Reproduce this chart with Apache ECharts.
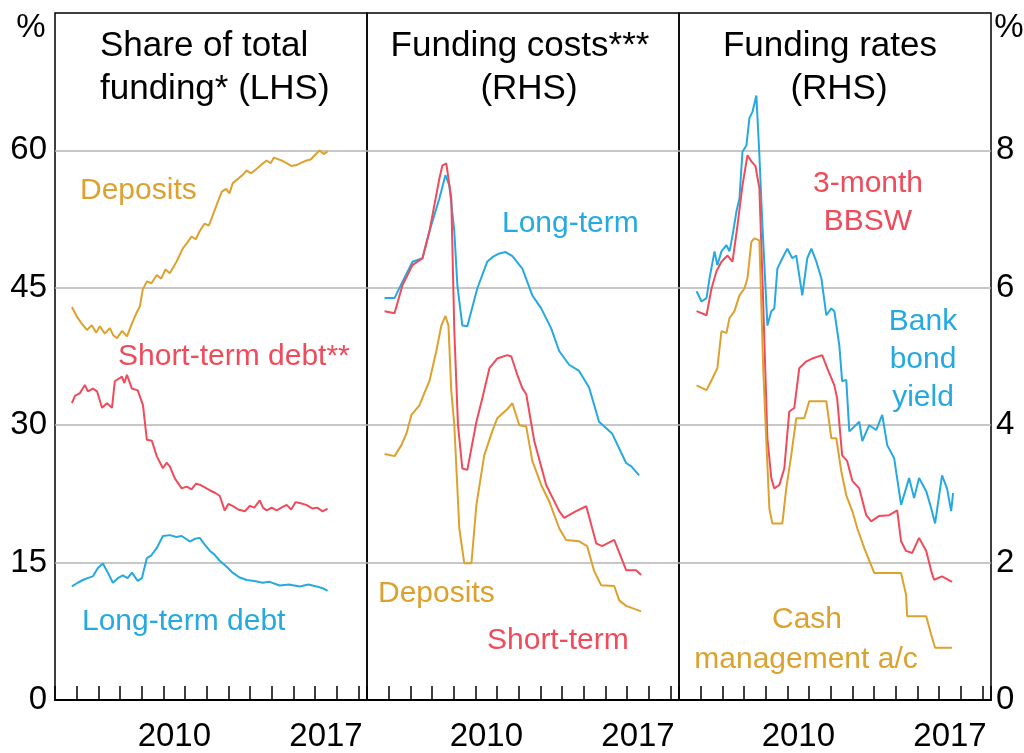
<!DOCTYPE html>
<html>
<head>
<meta charset="utf-8">
<script src="https://cdn.jsdelivr.net/npm/echarts@6/dist/echarts.min.js"></script>
<style>
html, body { margin: 0; padding: 0; background: #fff; }
#main { width: 1024px; height: 753px; }
</style>
</head>
<body>
<div id="main"></div>
<script>
var FONT = '"Liberation Sans", Arial, sans-serif';
var GOLD = '#DDA12E', RED = '#F04B5B', BLUE = '#25A9E0';

// tick labels
var yearLabels = [2010, 2017];
var lhsTicks = [0, 15, 30, 45, 60];
var rhsTicks = [0, 2, 4, 6, 8];

// panel 1: share of total funding (per cent, LHS)
var shareDeposits = [[2005.78,42.9],[2006.0,41.9],[2006.2,41.2],[2006.47,40.4],[2006.7,40.9],[2006.9,40.1],[2007.07,40.8],[2007.3,40.0],[2007.53,40.6],[2007.7,39.8],[2007.86,39.5],[2008.1,40.3],[2008.32,39.7],[2008.55,41.1],[2008.75,42.2],[2008.92,43],[2009.05,44.8],[2009.24,45.7],[2009.45,45.5],[2009.7,46.4],[2009.9,46.0],[2010.1,47.0],[2010.3,46.6],[2010.62,47.9],[2010.9,49.3],[2011.1,49.9],[2011.3,50.6],[2011.5,50.3],[2011.68,51.2],[2011.9,52.0],[2012.1,51.8],[2012.28,52.9],[2012.5,54.3],[2012.7,55.5],[2012.9,55.8],[2013.05,55.3],[2013.2,56.4],[2013.45,56.9],[2013.65,57.3],[2013.85,57.8],[2014.05,57.5],[2014.31,58],[2014.55,58.5],[2014.77,58.9],[2014.95,58.6],[2015.1,59.2],[2015.23,59.1],[2015.45,58.9],[2015.69,58.6],[2015.9,58.3],[2016.15,58.4],[2016.4,58.7],[2016.61,58.9],[2016.8,59.0],[2017.0,59.5],[2017.21,60],[2017.4,59.6],[2017.58,59.9]];
var shareShortDebt = [[2005.78,32.4],[2005.92,33.2],[2006.15,33.5],[2006.38,34.4],[2006.52,33.7],[2006.75,34.0],[2006.94,33.7],[2007.17,31.9],[2007.4,32.4],[2007.63,31.9],[2007.76,34.8],[2008.09,35.3],[2008.2,34.6],[2008.32,35.5],[2008.55,34],[2008.82,33.8],[2009.06,32.2],[2009.24,28.4],[2009.47,28.3],[2009.7,26.6],[2009.98,25.3],[2010.15,25.9],[2010.3,25.5],[2010.53,24.2],[2010.85,23.1],[2011.08,23.3],[2011.3,23.0],[2011.5,23.6],[2011.68,23.5],[2012.14,22.9],[2012.4,22.6],[2012.6,22.3],[2012.83,20.7],[2013.0,21.4],[2013.2,21.2],[2013.45,20.8],[2013.76,20.6],[2014.0,21.2],[2014.2,21.0],[2014.45,21.8],[2014.6,21.0],[2014.77,20.7],[2015.0,21.0],[2015.23,20.7],[2015.45,21.0],[2015.69,21.3],[2015.9,20.8],[2016.1,21.6],[2016.29,21.5],[2016.6,21.3],[2016.89,20.9],[2017.1,21.0],[2017.35,20.6],[2017.58,20.9]];
var shareLongDebt = [[2005.78,12.4],[2006.05,12.8],[2006.29,13.1],[2006.5,13.3],[2006.75,13.5],[2006.98,14.4],[2007.21,14.9],[2007.44,13.9],[2007.67,12.8],[2007.9,13.3],[2008.13,13.6],[2008.35,13.3],[2008.55,13.9],[2008.82,13.0],[2009.01,13.3],[2009.24,15.5],[2009.45,15.8],[2009.7,16.6],[2009.98,17.9],[2010.3,18.0],[2010.6,17.8],[2010.85,17.9],[2011.22,17.3],[2011.45,17.6],[2011.68,17.7],[2011.9,17.0],[2012.14,16.3],[2012.35,15.9],[2012.6,15.2],[2012.9,14.6],[2013.2,13.9],[2013.5,13.4],[2013.85,13.1],[2014.2,13.0],[2014.59,12.8],[2014.9,12.9],[2015.37,12.5],[2015.8,12.6],[2016.29,12.4],[2016.7,12.6],[2017.07,12.4],[2017.35,12.2],[2017.58,11.9]];

// panel 2: funding costs (per cent, RHS)
var costLongTerm = [[2005.81,5.85],[2006.27,5.85],[2006.64,6.09],[2007.1,6.38],[2007.56,6.43],[2007.88,6.82],[2008.34,7.3],[2008.62,7.64],[2008.8,7.49],[2009.03,6.82],[2009.17,6.04],[2009.4,5.45],[2009.63,5.44],[2010.09,5.99],[2010.55,6.38],[2010.8,6.45],[2011.11,6.5],[2011.4,6.52],[2011.71,6.46],[2012.17,6.28],[2012.63,5.89],[2013.04,5.7],[2013.5,5.41],[2013.87,5.08],[2014.33,4.88],[2014.79,4.79],[2015.25,4.55],[2015.71,4.05],[2016.31,3.88],[2016.96,3.45],[2017.2,3.4],[2017.56,3.27]];
var costShortTerm = [[2005.81,5.66],[2006.27,5.63],[2006.64,6.04],[2007.1,6.33],[2007.56,6.43],[2007.88,6.82],[2008.34,7.59],[2008.48,7.78],[2008.66,7.81],[2008.89,7.3],[2009.03,5.37],[2009.2,4.0],[2009.4,3.37],[2009.63,3.35],[2010.05,4.05],[2010.32,4.39],[2010.65,4.83],[2011.01,4.97],[2011.47,5.02],[2011.66,5.0],[2011.94,4.73],[2012.17,4.54],[2012.35,4.45],[2012.72,3.77],[2013.27,3.13],[2013.87,2.75],[2014.1,2.65],[2014.65,2.75],[2015.12,2.82],[2015.58,2.28],[2015.85,2.24],[2016.41,2.33],[2016.96,1.89],[2017.42,1.89],[2017.65,1.82]];
var costDeposits = [[2005.81,3.58],[2006.27,3.55],[2006.59,3.71],[2006.82,3.88],[2007.05,4.15],[2007.42,4.29],[2007.65,4.47],[2007.88,4.64],[2008.2,5.08],[2008.43,5.45],[2008.62,5.59],[2008.76,5.45],[2008.89,4.5],[2009.03,4.0],[2009.26,2.5],[2009.49,1.99],[2009.82,1.99],[2010.05,2.84],[2010.41,3.56],[2010.78,3.91],[2011.01,4.1],[2011.43,4.22],[2011.71,4.32],[2012.03,4.0],[2012.35,3.98],[2012.63,3.48],[2013.04,3.13],[2013.41,2.89],[2013.87,2.5],[2014.19,2.33],[2014.79,2.31],[2015.16,2.24],[2015.48,1.88],[2015.81,1.67],[2016.41,1.66],[2016.64,1.45],[2016.96,1.37],[2017.65,1.29]];

// panel 3: funding rates (per cent, RHS)
var rateBankBond = [[2005.81,5.95],[2006.04,5.8],[2006.27,5.85],[2006.41,6.14],[2006.64,6.53],[2006.77,6.33],[2006.96,6.53],[2007.19,6.62],[2007.33,6.53],[2007.47,6.76],[2007.65,7.11],[2007.79,7.3],[2007.93,7.98],[2008.11,8.07],[2008.25,8.47],[2008.39,8.56],[2008.57,8.8],[2008.71,7.93],[2008.85,6.91],[2009.08,5.45],[2009.26,5.66],[2009.4,5.7],[2009.54,6.28],[2009.77,6.43],[2010.0,6.57],[2010.23,6.43],[2010.41,6.47],[2010.69,5.89],[2010.92,6.43],[2011.11,6.57],[2011.34,6.38],[2011.57,6.14],[2011.8,5.6],[2012.03,5.7],[2012.17,5.66],[2012.4,5.16],[2012.53,4.64],[2012.72,4.66],[2012.86,3.91],[2013.32,4.05],[2013.46,3.77],[2013.78,4.0],[2014.1,3.93],[2014.38,4.15],[2014.61,3.71],[2014.93,3.52],[2015.25,2.84],[2015.48,3.08],[2015.62,3.23],[2015.85,2.94],[2016.08,3.23],[2016.41,3.04],[2016.64,2.79],[2016.82,2.57],[2017.14,3.27],[2017.37,3.08],[2017.56,2.75],[2017.65,3.01]];
var rateBBSW = [[2005.81,5.66],[2006.27,5.6],[2006.5,5.99],[2006.73,6.24],[2006.96,6.38],[2007.24,6.47],[2007.47,6.38],[2007.7,6.91],[2007.93,7.49],[2008.16,7.93],[2008.34,7.84],[2008.53,7.77],[2008.71,7.45],[2008.85,6.14],[2009.08,3.81],[2009.26,3.23],[2009.4,3.08],[2009.63,3.13],[2009.86,3.37],[2010.09,4.2],[2010.32,4.25],[2010.55,4.83],[2010.88,4.93],[2011.15,4.97],[2011.61,5.02],[2011.84,4.83],[2012.17,4.58],[2012.3,4.39],[2012.53,3.56],[2012.76,3.48],[2013.0,3.19],[2013.32,3.08],[2013.64,2.69],[2013.87,2.6],[2014.24,2.68],[2014.7,2.69],[2015.07,2.76],[2015.25,2.31],[2015.48,2.17],[2015.76,2.14],[2016.08,2.36],[2016.41,2.17],[2016.64,1.88],[2016.77,1.75],[2017.14,1.8],[2017.6,1.72]];
var rateCashMgmt = [[2005.81,4.58],[2006.27,4.51],[2006.54,4.68],[2006.77,4.83],[2006.96,5.37],[2007.19,5.34],[2007.33,5.56],[2007.56,5.66],[2007.79,5.89],[2008.02,5.99],[2008.16,6.14],[2008.34,6.67],[2008.48,6.72],[2008.71,6.69],[2008.89,4.8],[2009.03,3.77],[2009.17,2.79],[2009.31,2.57],[2009.77,2.57],[2009.95,3.08],[2010.18,3.56],[2010.41,4.1],[2010.78,4.1],[2011.01,4.35],[2011.8,4.35],[2012.03,3.81],[2012.26,3.81],[2012.49,3.33],[2012.72,2.98],[2013.0,2.75],[2013.23,2.5],[2013.55,2.21],[2013.87,1.96],[2014.01,1.85],[2015.25,1.85],[2015.48,1.53],[2015.53,1.22],[2016.41,1.22],[2016.64,0.95],[2016.82,0.76],[2017.6,0.76]];

var myChart = echarts.init(document.getElementById('main'));

var panelLeft = [55, 367, 679];

function xAxisFor(i) {
	return {
		type: 'value', gridIndex: i, min: 2005, max: 2019.4, interval: 1,
		axisLine: { show: true, lineStyle: { color: '#000', width: 2 } },
		axisTick: { show: true, inside: true, length: 14, lineStyle: { color: '#000', width: 1.5 } },
		splitLine: { show: false },
		axisLabel: {
			margin: 20,
			formatter: function (v) {
				return yearLabels.indexOf(v) >= 0 ? '{y|' + v + '}' : '';
			},
			rich: { y: { fontSize: 33, color: '#000', fontFamily: FONT, padding: [0, 0, 0, 22] } }
		}
	};
}

function yAxisFor(i, max, interval, ticks, pos, showLabel) {
	return {
		type: 'value', gridIndex: i, min: 0, max: max, interval: interval, position: pos,
		axisLine: { show: false }, axisTick: { show: false },
		splitLine: { show: true, showMaxLine: false, lineStyle: { color: '#b5b5b5', width: 1.5 } },
		axisLabel: {
			show: showLabel, margin: pos === 'left' ? 8 : 5,
			fontSize: 33, color: '#000', fontFamily: FONT,
			formatter: function (v) { return ticks.indexOf(v) >= 0 ? String(v) : ''; }
		}
	};
}

function line(data, color, i) {
	return {
		type: 'line', xAxisIndex: i, yAxisIndex: i, data: data,
		symbol: 'none', showSymbol: false, silent: true,
		lineStyle: { color: color, width: 2 }
	};
}

function txt(text, x, y, color, size, align) {
	return {
		type: 'text', x: x, y: y, silent: true,
		style: {
			text: text, fill: color, font: size + 'px ' + FONT,
			align: align || 'center', verticalAlign: 'middle'
		}
	};
}

option = {
	animation: false,
	backgroundColor: '#fff',
	grid: panelLeft.map(function (l) {
		return { left: l, top: 13, width: 312, height: 689, show: true, borderColor: '#000', borderWidth: 1.5 };
	}),
	xAxis: [xAxisFor(0), xAxisFor(1), xAxisFor(2)],
	yAxis: [
		yAxisFor(0, 75, 15, lhsTicks, 'left', true),
		yAxisFor(1, 10, 2, rhsTicks, 'right', false),
		yAxisFor(2, 10, 2, rhsTicks, 'right', true)
	],
	series: [
		line(shareDeposits, GOLD, 0),
		line(shareShortDebt, RED, 0),
		line(shareLongDebt, BLUE, 0),
		line(costLongTerm, BLUE, 1),
		line(costShortTerm, RED, 1),
		line(costDeposits, GOLD, 1),
		line(rateBankBond, BLUE, 2),
		line(rateBBSW, RED, 2),
		line(rateCashMgmt, GOLD, 2)
	],
	graphic: [
		txt('%', 31, 28, '#000', 33),
		txt('%', 1009, 28, '#000', 33),
		txt('Share of total', 100, 46, '#000', 35, 'left'),
		txt('funding* (LHS)', 100, 89, '#000', 35, 'left'),
		txt('Funding costs***', 520, 46, '#000', 35),
		txt('(RHS)', 529, 89, '#000', 35),
		txt('Funding rates', 830, 46, '#000', 35),
		txt('(RHS)', 839, 89, '#000', 35),
		txt('Deposits', 80, 191, GOLD, 30, 'left'),
		txt('Short-term debt**', 118, 357, RED, 30, 'left'),
		txt('Long-term debt', 82, 622, BLUE, 30, 'left'),
		txt('Long-term', 502, 224, BLUE, 30, 'left'),
		txt('Deposits', 378, 594, GOLD, 30, 'left'),
		txt('Short-term', 487, 641, RED, 30, 'left'),
		txt('3-month', 868, 184, RED, 30),
		txt('BBSW', 868, 222, RED, 30),
		txt('Bank', 923, 322, BLUE, 30),
		txt('bond', 923, 360, BLUE, 30),
		txt('yield', 923, 398, BLUE, 30),
		txt('Cash', 807, 620, GOLD, 30),
		txt('management a/c', 806, 660, GOLD, 30)
	]
};

myChart.setOption(option);
</script>
</body>
</html>
